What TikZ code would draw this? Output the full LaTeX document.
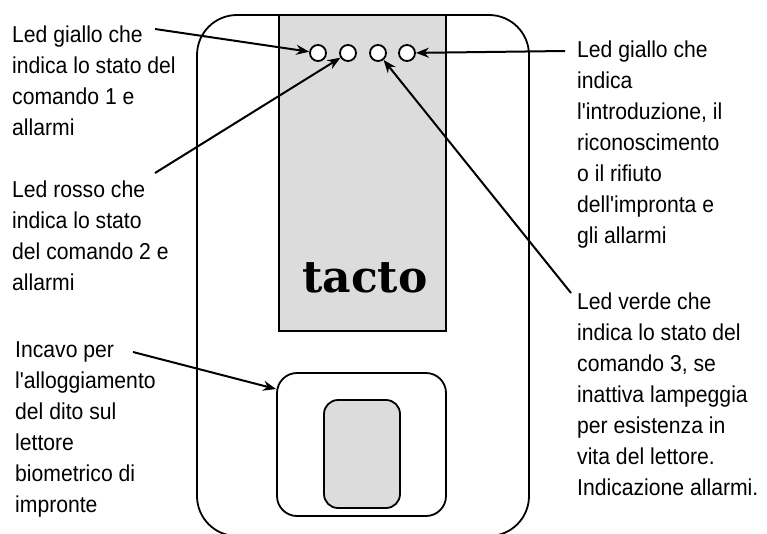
\documentclass[tikz,border=0pt]{standalone}
\usepackage{fontspec}
\setmainfont{Liberation Sans}[FakeStretch=0.92, Ligatures=TeXOff]
\newfontfamily\logofont{DejaVu Serif}
\usetikzlibrary{arrows.meta, positioning, calc}
\definecolor{panelgray}{HTML}{DCDCDC}
\tikzset{
  led/.style={circle, draw, line width=1.8pt, fill=white, minimum size=16pt, inner sep=0pt},
  label text/.style={align=left, anchor=base west, inner sep=0pt, font=\fontsize{23}{31}\selectfont},
  pointer/.style={-{Stealth[length=13pt,width=10pt]}, line width=2pt},
}

\begin{document}
\begin{tikzpicture}[x=1pt, y=-1pt]
  \useasboundingbox (0,0) rectangle (767,533);
  \draw[line width=1.8pt, rounded corners=40pt] (197,15) rectangle (529,536);
  \draw[line width=2pt, fill=panelgray] (279,15) rectangle (446,331);
  \node (logo) at (365,278) {\logofont\bfseries\fontsize{44}{44}\selectfont tacto};
  \foreach \i/\x in {1/318, 2/348, 3/378, 4/407}
    \node[led] (led\i) at (\x,53) {};
  \node[draw, line width=1.8pt, rounded corners=20pt, minimum width=169pt, minimum height=143pt] (finger) at (361.5,444.5) {};
  \node[draw, line width=1.8pt, fill=panelgray, rounded corners=14pt, minimum width=76pt, minimum height=108pt] (sensor) at (362,454) {};

  % base = baseline of the last line
  \node[label text] (giallo1) at (12,135) {Led giallo che\\indica lo stato del\\comando 1 e\\allarmi};
  \node[label text] (rosso) at (12,290) {Led rosso che\\indica lo stato\\del comando 2 e\\allarmi};
  \node[label text] (incavo) at (15,512) {Incavo per\\l'alloggiamento\\del dito sul\\lettore\\biometrico di\\impronte};
  \node[label text] (giallo2) at (577,243) {Led giallo che\\indica\\l'introduzione, il\\riconoscimento\\o il rifiuto\\dell'impronta e\\gli allarmi};
  \node[label text] (verde) at (577,495) {Led verde che\\indica lo stato del\\comando 3, se\\inattiva lampeggia\\per esistenza in\\vita del lettore.\\Indicazione allarmi.};

  \coordinate (p1) at (155,29);
  \coordinate (p2) at (155,173);
  \coordinate (p3) at (565,51);
  \coordinate (p4) at (571,293);
  \coordinate (p5) at (133,352);
  \draw[pointer] (p1) -- (led1);
  \draw[pointer] (p2) -- (led2);
  \draw[pointer] (p3) -- (led4);
  \draw[pointer] (p4) -- (led3);
  \draw[pointer] (p5) -- (finger.147);
\end{tikzpicture}
\end{document}
